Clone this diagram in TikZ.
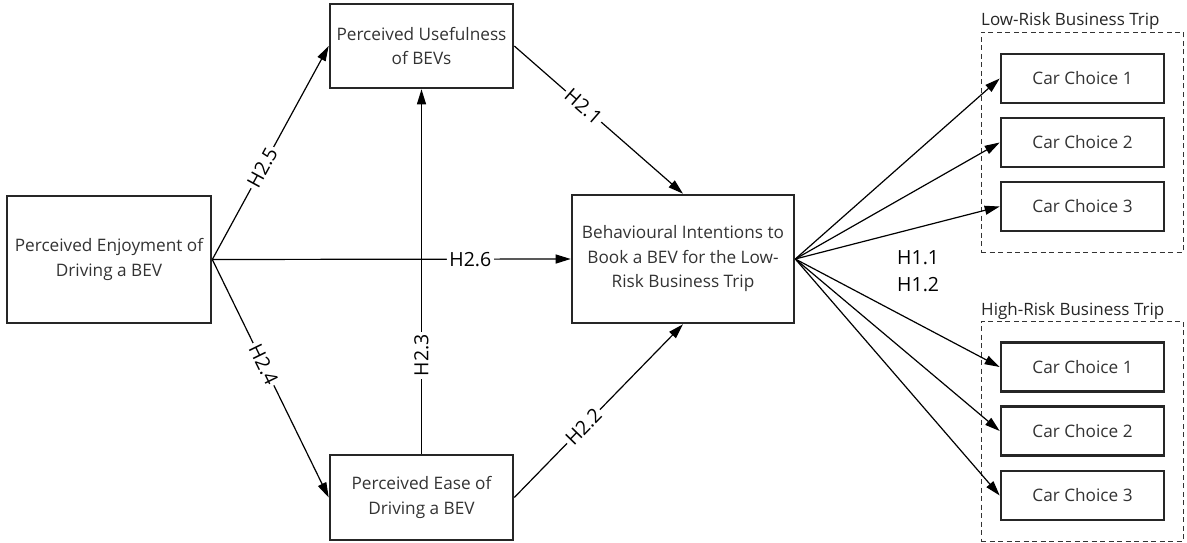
\documentclass[tikz,border=0pt]{standalone}
\usepackage{fontspec}
\setmainfont{Open Sans}
\usetikzlibrary{arrows.meta}
\begin{document}
\begin{tikzpicture}[x=1pt,y=-1pt,
  box/.style={draw=black!85, line width=2.6pt, align=center, inner sep=0pt,
    text=black!80, font=\fontsize{17.2}{24.5}\selectfont},
  car/.style={box, minimum width=163pt, minimum height=49pt},
  group/.style={draw=black!80, line width=0.9pt, dash pattern=on 5pt off 3.5pt,
    minimum width=202pt, minimum height=220pt, inner sep=0pt},
  grouptitle/.style={anchor=base west, inner sep=0pt, text=black!85,
    font=\fontsize{17}{18}\selectfont},
  link/.style={line width=1.2pt, -{Triangle[length=15pt,width=9pt]}},
  lab/.style={fill=white, sloped, inner sep=2.5pt, font=\fontsize{19.5}{22}\selectfont},
  hyp/.style={anchor=west, inner sep=0pt, font=\fontsize{19.5}{22}\selectfont}]
\useasboundingbox (0,0) rectangle (1187,543);

% constructs
\node[box, minimum width=204pt, minimum height=127pt] (enjoy) at (109,259.5)
  {Perceived Enjoyment of\\Driving a BEV};
\node[box, minimum width=183pt, minimum height=84pt] (useful) at (421.5,46)
  {Perceived Usefulness\\of BEVs};
\node[box, minimum width=183pt, minimum height=85pt] (ease) at (421.5,497.5)
  {Perceived Ease of\\Driving a BEV};
\node[box, minimum width=222pt, minimum height=128pt] (intent) at (683,259)
  {Behavioural Intentions to\\Book a BEV for the Low-\\Risk Business Trip};

% trip scenarios
\node[group] (low) at (1082,142) {};
\node[grouptitle] (lowtitle) at (981,26) {Low-Risk Business Trip};
\node[car] (l1) at (1082.5,78.5) {Car Choice 1};
\node[car] (l2) at (1082.5,142.5) {Car Choice 2};
\node[car] (l3) at (1082.5,206.5) {Car Choice 3};

\node[group] (high) at (1082,431) {};
\node[grouptitle] (hightitle) at (981,315) {High-Risk Business Trip};
\node[car] (h1) at (1082.5,367) {Car Choice 1};
\node[car] (h2) at (1082.5,431) {Car Choice 2};
\node[car] (h3) at (1082.5,495.5) {Car Choice 3};

% hypothesised paths
\draw[link] (enjoy.east) -- node[lab, pos=0.43] {H2.5} (useful.west);
\draw[link] (enjoy.east) -- node[lab, pos=0.44] {H2.4} (ease.west);
\draw[link] (enjoy.east) -- node[lab, pos=0.72] {H2.6} (intent.west);
\draw[link] (ease.north) -- node[lab, pos=0.27] {H2.3} (useful.south);
\draw[link] (useful.east) -- node[lab, pos=0.41] {H2.1} (intent.north);
\draw[link] (ease.east) -- node[lab, pos=0.41] {H2.2} (intent.south);

\foreach \c in {l1,l2,l3,h1,h2,h3}
  \draw[link] (intent.east) -- (\c.west);

\node[hyp] (h11) at (897,258) {H1.1};
\node[hyp] (h12) at (897,285) {H1.2};
\end{tikzpicture}
\end{document}
